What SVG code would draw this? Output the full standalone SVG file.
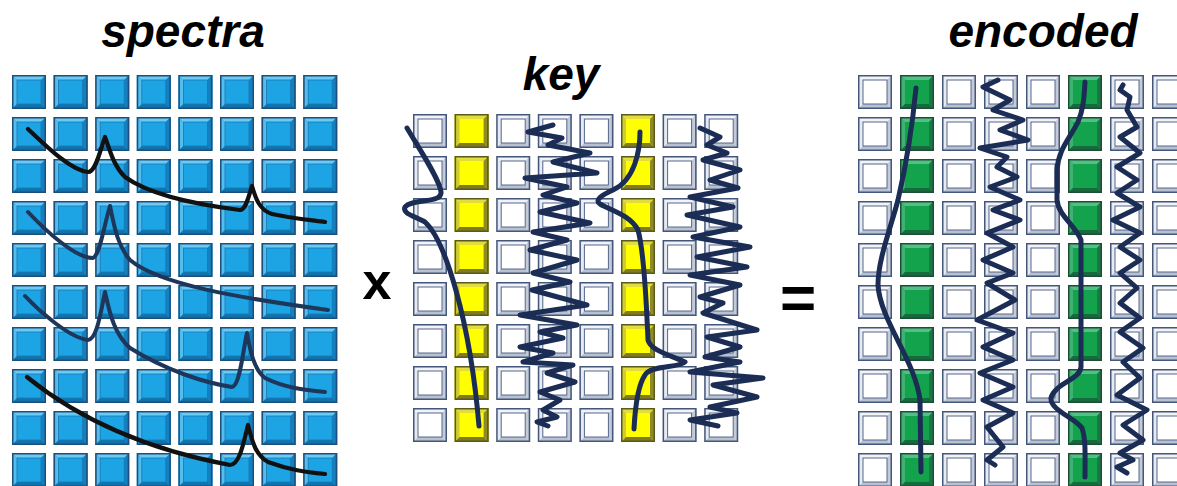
<svg xmlns="http://www.w3.org/2000/svg" xmlns:xlink="http://www.w3.org/1999/xlink" width="1177" height="486" viewBox="0 0 1177 486">
<style>
.title{font-family:"Liberation Sans",Arial,sans-serif;font-weight:bold;font-style:italic;font-size:46px;fill:#000;text-anchor:middle}
.op{font-family:"Liberation Sans",Arial,sans-serif;font-weight:bold;fill:#000;text-anchor:middle}
.ink{fill:none;stroke-linecap:round;stroke-linejoin:round}
.k{stroke:#111;stroke-width:4.2}
.n{stroke:#1d365a;stroke-width:4}
.w{stroke:#1b2d55;stroke-width:5}
</style>
<defs>
<g id="sb">
<rect width="34" height="34" fill="#1ca4e4"/>
<polygon points="0,0 34,0 29,5 5,5" fill="#6ccaf2"/>
<polygon points="0,0 5,5 5,29 0,34" fill="#55bdec"/>
<polygon points="34,0 34,34 29,29 29,5" fill="#1480bf"/>
<polygon points="0,34 5,29 29,29 34,34" fill="#1173ac"/>
<rect x="5" y="5" width="24" height="24" fill="none" stroke="#1a78b4" stroke-width="0.8"/>
<rect x="0.75" y="0.75" width="32.5" height="32.5" fill="none" stroke="#1d4f7c" stroke-width="1.5"/>
</g>
<g id="sw">
<rect width="34" height="34" fill="#ffffff"/>
<polygon points="0,0 34,0 29,5 5,5" fill="#f1f3f7"/>
<polygon points="0,0 5,5 5,29 0,34" fill="#e6eaf1"/>
<polygon points="34,0 34,34 29,29 29,5" fill="#c3cad8"/>
<polygon points="0,34 5,29 29,29 34,34" fill="#b8c1d1"/>
<rect x="5" y="5" width="24" height="24" fill="none" stroke="#56668a" stroke-width="1"/>
<rect x="0.75" y="0.75" width="32.5" height="32.5" fill="none" stroke="#44567a" stroke-width="1.5"/>
</g>
<g id="sy">
<rect width="34" height="34" fill="#ffff00"/>
<polygon points="0,0 34,0 29,5 5,5" fill="#e2dc3c"/>
<polygon points="0,0 5,5 5,29 0,34" fill="#d2cc34"/>
<polygon points="34,0 34,34 29,29 29,5" fill="#8e8b26"/>
<polygon points="0,34 5,29 29,29 34,34" fill="#7f7c20"/>
<rect x="0.75" y="0.75" width="32.5" height="32.5" fill="none" stroke="#5a5a1e" stroke-width="1.5"/>
</g>
<g id="sg">
<rect width="34" height="34" fill="#13a34d"/>
<polygon points="0,0 34,0 29,5 5,5" fill="#52c086"/>
<polygon points="0,0 5,5 5,29 0,34" fill="#3fb273"/>
<polygon points="34,0 34,34 29,29 29,5" fill="#1b7845"/>
<polygon points="0,34 5,29 29,29 34,34" fill="#176a3d"/>
<rect x="0.75" y="0.75" width="32.5" height="32.5" fill="none" stroke="#1e4d36" stroke-width="1.5"/>
</g>
<g id="rowS">
<use href="#sb" x="0"/><use href="#sb" x="41.6"/><use href="#sb" x="83.2"/><use href="#sb" x="124.8"/>
<use href="#sb" x="166.4"/><use href="#sb" x="208"/><use href="#sb" x="249.6"/><use href="#sb" x="291.2"/>
</g>
<g id="rowK">
<use href="#sw" x="0"/><use href="#sy" x="41.6"/><use href="#sw" x="83.2"/><use href="#sw" x="124.8"/>
<use href="#sw" x="166.4"/><use href="#sy" x="208"/><use href="#sw" x="249.6"/><use href="#sw" x="291.2"/>
</g>
<g id="rowE">
<use href="#sw" x="0"/><use href="#sg" x="42"/><use href="#sw" x="84"/><use href="#sw" x="126"/>
<use href="#sw" x="168"/><use href="#sg" x="210"/><use href="#sw" x="252"/><use href="#sw" x="294"/>
</g>
</defs>
<rect width="1177" height="486" fill="#ffffff"/>

<g id="spectra">
<text class="title" x="183" y="47">spectra</text>
<g id="spectra-grid">
<use href="#rowS" x="12" y="75"/><use href="#rowS" x="12" y="117"/><use href="#rowS" x="12" y="159"/>
<use href="#rowS" x="12" y="201"/><use href="#rowS" x="12" y="243"/><use href="#rowS" x="12" y="285"/>
<use href="#rowS" x="12" y="327"/><use href="#rowS" x="12" y="369"/><use href="#rowS" x="12" y="411"/>
<use href="#rowS" x="12" y="453"/>
</g>
<g id="spectra-curves">
<path class="ink k" d="M28,129 C45,145 70,170 88,172 C96,172 100,150 105,137 C110,150 113,165 125,177 C150,195 200,205 240,210 C246,210 249,195 252,186 C256,200 260,210 272,214 C290,218 310,220 325,222"/>
<path class="ink n" d="M28,212 C45,230 75,258 93,258 C100,255 104,225 110,206 C114,225 117,245 130,260 C160,285 240,298 328,310"/>
<path class="ink n" d="M25,296 C40,312 70,338 88,340 C97,340 101,310 105,292 C110,315 115,335 130,348 C165,370 205,383 232,387 C240,386 243,350 247,333 C250,350 254,370 265,378 C285,388 305,390 325,392"/>
<path class="ink k" d="M27,377 C80,420 150,450 230,465 C240,465 244,440 248,425 C252,440 255,455 268,462 C290,470 305,472 325,474"/>
</g>
</g>

<g id="times">
<text class="op" x="377" y="299" font-size="52">x</text>
</g>

<g id="key">
<text class="title" x="561" y="90">key</text>
<g id="key-grid">
<use href="#rowK" x="413" y="114"/><use href="#rowK" x="413" y="156"/><use href="#rowK" x="413" y="198"/>
<use href="#rowK" x="413" y="240"/><use href="#rowK" x="413" y="282"/><use href="#rowK" x="413" y="324"/>
<use href="#rowK" x="413" y="366"/><use href="#rowK" x="413" y="408"/>
</g>
<g id="key-curves">
<path class="ink w" d="M407,128 C420,150 440,180 441,192 C442,204 412,198 405,207 C402,214 415,216 425,222 C445,240 470,320 479,426"/>
<polyline class="ink w" points="553,125 528,132 562,138 548,145 590,153 553,162 597,173 525,178 567,187 543,195 577,203 540,212 590,223 533,232 567,240 530,250 577,260 533,273 570,282 532,290 587,305 520,315 577,325 540,332 563,338 520,347 553,353 523,362 573,365 547,373 575,382 540,392 560,400 543,410 557,417 537,422 548,426"/>
<path class="ink w" d="M640,132 C640,150 635,180 613,190 C602,195 594,200 600,204 C610,210 630,215 638,230 C645,255 647,320 648,340 C650,350 670,355 685,362 C680,368 650,365 645,375 C638,385 635,410 634,429"/>
<polyline class="ink w" points="700,128 720,137 707,145 727,153 703,160 740,170 710,180 738,188 690,197 733,207 687,215 740,227 693,237 750,247 697,257 747,267 690,275 740,285 700,297 723,303 703,313 757,330 707,337 740,347 705,357 740,362 690,372 763,378 713,385 757,397 710,407 737,413 690,420 718,426"/>
</g>
</g>

<g id="equals">
<text class="op" x="798" y="319" font-size="62">=</text>
</g>

<g id="encoded">
<text class="title" x="1043" y="47">encoded</text>
<g id="encoded-grid">
<use href="#rowE" x="858" y="75"/><use href="#rowE" x="858" y="117"/><use href="#rowE" x="858" y="159"/>
<use href="#rowE" x="858" y="201"/><use href="#rowE" x="858" y="243"/><use href="#rowE" x="858" y="285"/>
<use href="#rowE" x="858" y="327"/><use href="#rowE" x="858" y="369"/><use href="#rowE" x="858" y="411"/>
<use href="#rowE" x="858" y="453"/>
</g>
<g id="encoded-curves">
<path class="ink w" d="M916,88 C912,130 905,170 898,200 C890,230 878,260 878,285 C880,320 915,360 920,400 L921,472"/>
<polyline class="ink w" points="998,80 983,87 1010,100 993,110 1023,120 1000,130 1028,140 980,148 1007,157 997,167 1017,177 990,187 1020,200 993,210 1020,220 987,233 1013,247 983,260 1013,273 987,283 1015,300 977,320 1013,333 983,347 1013,360 980,373 1013,387 983,400 1013,413 987,427 1003,447 987,460 995,465"/>
<path class="ink w" d="M1085,82 C1084,100 1083,110 1078,122 C1070,138 1058,150 1057,170 L1057,200 C1058,215 1075,225 1081,240 L1081,367 C1080,380 1055,383 1051,398 C1050,410 1075,418 1082,428 C1086,440 1085,455 1085,477"/>
<polyline class="ink w" points="1123,85 1120,90 1130,97 1127,110 1137,127 1120,137 1140,153 1117,167 1137,180 1117,193 1140,207 1113,220 1140,233 1120,247 1140,260 1120,273 1137,288 1120,303 1140,318 1120,332 1143,348 1123,362 1140,378 1117,395 1147,410 1123,425 1143,440 1120,453 1133,460 1117,467 1127,473"/>
</g>
</g>
</svg>
